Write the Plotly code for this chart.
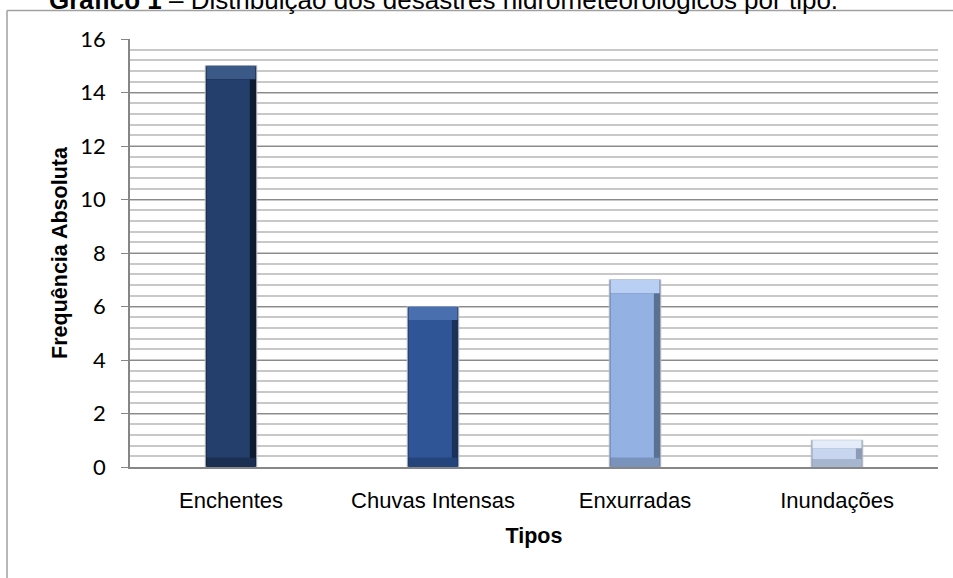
import plotly.graph_objects as go

# ---- data ----
categories = ["Enchentes", "Chuvas Intensas", "Enxurradas", "Inundações"]
values = [15, 6, 7, 1]
y_ticks = [0, 2, 4, 6, 8, 10, 12, 14, 16]

# ---- styles ----
face_colors = ["#243f6c", "#2f5597", "#93b1e3", "#c7d6ee"]
top_colors = ["#3b5987", "#4a6fae", "#b9d0f4", "#e4ecf9"]
edge_colors = ["#0e1b30", "#1b3158", "#5b7194", "#8d9bb6"]
bottom_colors = ["#1a2f52", "#24457c", "#7a93bd", "#a7b6cf"]

SANS = "Liberation Sans, Arial"

# plot-area geometry (pixels)
W, H = 953, 578
ML, MR, MT, MB = 130, 15, 39, 111
PW, PH = W - ML - MR, H - MT - MB


def px_x(px):
    return (px - ML) / PW


def px_y(py):
    return (H - MB - py) / PH


bar_w = 0.255
face_w = 0.215
top_b = [min(0.5, 0.3 * v) for v in values]
bot_b = [min(0.35, 0.3 * v) for v in values]

fig = go.Figure()
fig.add_trace(go.Bar(x=categories, y=values, width=bar_w,
                     marker=dict(color=edge_colors, line=dict(color="#b8bcc4", width=1)),
                     hoverinfo="skip", showlegend=False))
fig.add_trace(go.Bar(x=categories, y=bot_b, width=bar_w - 0.012,
                     marker=dict(color=bottom_colors, line=dict(width=0)),
                     hoverinfo="skip", showlegend=False))
fig.add_trace(go.Bar(x=categories, y=top_b, base=[v - t for v, t in zip(values, top_b)],
                     width=bar_w - 0.012,
                     marker=dict(color=top_colors, line=dict(width=0)),
                     hoverinfo="skip", showlegend=False))
fig.add_trace(go.Bar(x=categories,
                     y=[v - t - b for v, t, b in zip(values, top_b, bot_b)],
                     base=bot_b, width=face_w, offset=-bar_w / 2 + 0.006,
                     marker=dict(color=face_colors, line=dict(width=0)),
                     hoverinfo="skip", showlegend=False))

fig.update_layout(
    width=W, height=H,
    margin=dict(l=ML, r=MR, t=MT, b=MB),
    paper_bgcolor="white", plot_bgcolor="white",
    barmode="overlay",
    font=dict(family=SANS, color="black"),
    xaxis=dict(
        showgrid=False, showline=True, linecolor="#868686", linewidth=1.5,
        ticks="", tickfont=dict(family=SANS, size=22),
        ticklabelstandoff=13,
        title=dict(text="<b>Tipos</b>", font=dict(family=SANS, size=21.5), standoff=16),
        fixedrange=True,
    ),
    yaxis=dict(
        range=[0, 16], tickvals=y_ticks, ticktext=[str(t) for t in y_ticks],
        showgrid=True, gridcolor="#8a8a8a", gridwidth=1.2,
        showline=True, linecolor="#868686", linewidth=1.5,
        ticks="outside", ticklen=7, tickcolor="#868686", tickwidth=1.2,
        ticklabelstandoff=11,
        tickfont=dict(family="Lato", size=22),
        minor=dict(dtick=0.4, showgrid=True, gridcolor="#c8c8c8", gridwidth=1.5),
        title=dict(text="<b>Frequência Absoluta</b>", font=dict(family=SANS, size=21.5), standoff=7),
        zeroline=False, fixedrange=True,
    ),
    shapes=[
        dict(type="line", xref="paper", yref="paper",
             x0=px_x(7), x1=px_x(960), y0=px_y(10.5), y1=px_y(10.5),
             line=dict(color="#a0a0a0", width=1.5)),
        dict(type="line", xref="paper", yref="paper",
             x0=px_x(7), x1=px_x(7), y0=px_y(10.5), y1=px_y(590),
             line=dict(color="#a0a0a0", width=1.5)),
    ],
    annotations=[
        dict(xref="paper", yref="paper", x=px_x(47), y=px_y(17),
             xanchor="left", yanchor="bottom", showarrow=False,
             text="<b>Gráfico 1</b> – Distribuição dos desastres hidrometeorológicos por tipo.",
             font=dict(family=SANS, size=26, color="black")),
    ],
)

fig.write_html("out.html")
